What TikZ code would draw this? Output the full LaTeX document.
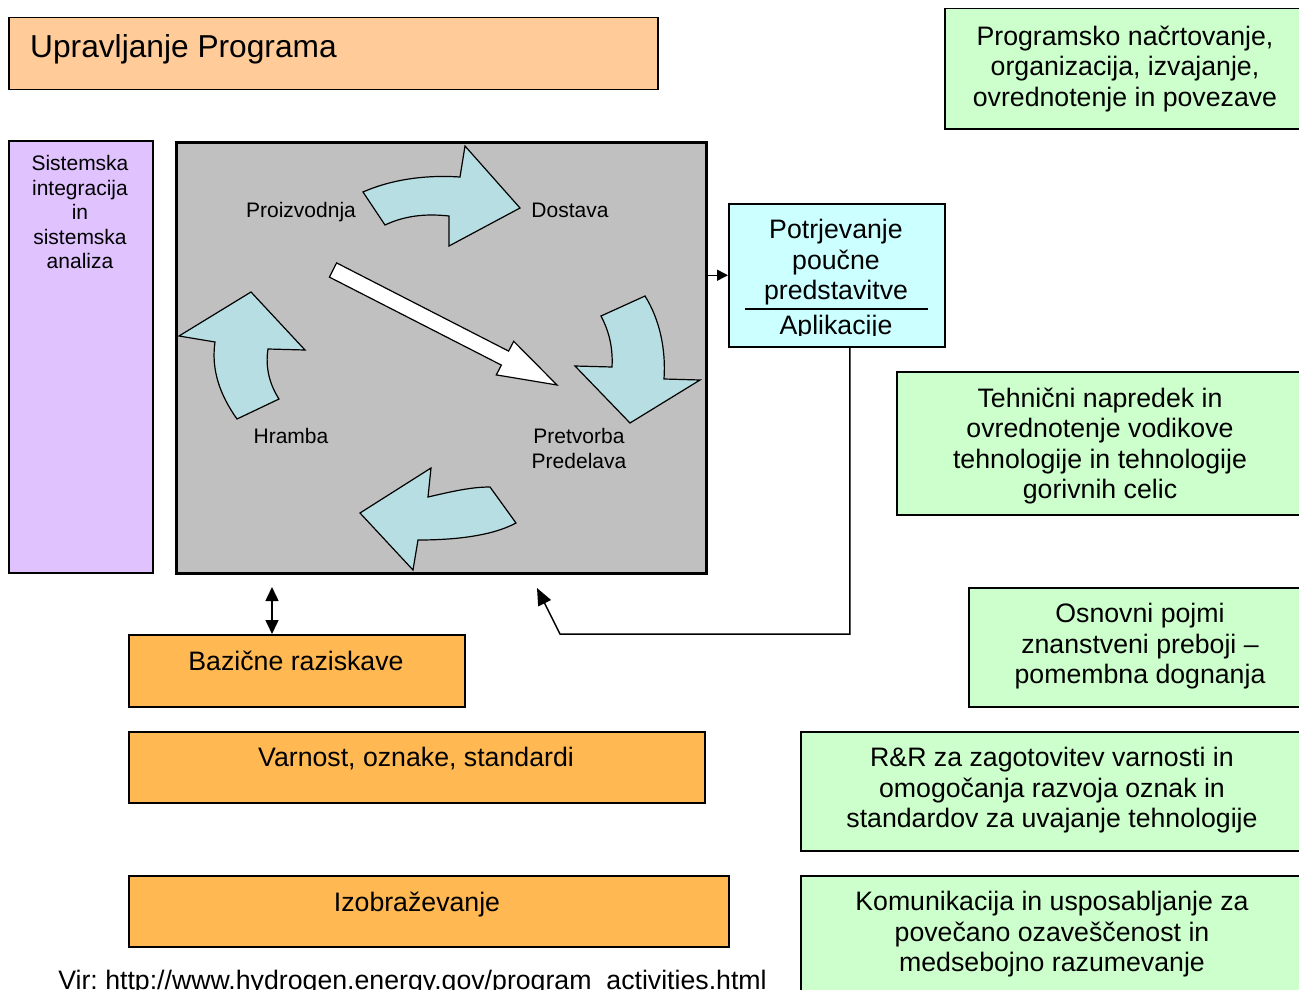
\documentclass[tikz,border=0pt]{standalone}
\usepackage{fontspec}
\setmainfont{Liberation Sans}
\usetikzlibrary{arrows.meta}
\frenchspacing
\definecolor{titleor}{RGB}{255,204,153}
\definecolor{boxor}{RGB}{255,184,82}
\definecolor{lav}{RGB}{224,194,255}
\definecolor{cyanb}{RGB}{204,255,255}
\definecolor{grn}{RGB}{204,255,204}
\definecolor{grayb}{RGB}{192,192,192}
\definecolor{arrb}{RGB}{183,222,226}
\tikzset{
  box/.style={draw=black, line width=1.5pt, anchor=north west, inner sep=0pt},
  big/.style={font=\fontsize{26.7}{30.5}\selectfont, align=center, inner sep=0pt},
  small/.style={font=\fontsize{21}{24.5}\selectfont, align=center, inner sep=0pt},
  blockarrow/.style={fill=arrb, draw=black, line width=1.2pt, line join=miter},
  link/.style={draw=black, line width=1.5pt},
}
\begin{document}
\begin{tikzpicture}[x=1pt,y=-1pt]
\useasboundingbox (0,0) rectangle (1299,990);
\clip (0,0) rectangle (1299,990);

% boxes
\node[box, fill=titleor, minimum width=649pt, minimum height=72pt] (title) at (8,17) {};
\node[box, fill=lav, minimum width=144pt, minimum height=432pt] (sys) at (8,140) {};
\node[box, fill=grayb, line width=2.5pt, minimum width=530pt, minimum height=431pt] (cyc) at (175,141) {};
\node[box, fill=cyanb, minimum width=216pt, minimum height=143pt] (pot) at (728,203) {};
\node[box, fill=boxor, minimum width=336pt, minimum height=72pt] (baz) at (128,634) {};
\node[box, fill=boxor, minimum width=576pt, minimum height=71pt] (var) at (128,731) {};
\node[box, fill=boxor, minimum width=600pt, minimum height=71pt] (izo) at (128,875) {};
\node[box, fill=grn, minimum width=361pt, minimum height=120pt] (g1) at (944,8) {};
\node[box, fill=grn, minimum width=409pt, minimum height=143pt] (g2) at (896,371) {};
\node[box, fill=grn, minimum width=337pt, minimum height=119pt] (g3) at (968,587) {};
\node[box, fill=grn, minimum width=505pt, minimum height=119pt] (g4) at (800,731) {};
\node[box, fill=grn, minimum width=505pt, minimum height=130pt] (g5) at (800,875) {};

% texts
\node[anchor=base west, inner sep=0pt, font=\fontsize{31.7}{36}\selectfont] (titletxt) at (30,58) {Upravljanje Programa};
\node[small, anchor=north] (systxt) at (80,155.4) {Sistemska\\integracija\\in\\sistemska\\analiza};
\node[small, anchor=base] (proiz) at (301,217.5) {Proizvodnja};
\node[small, anchor=base] (dost) at (570,217.5) {Dostava};
\node[small, anchor=base] (hram) at (291,443.5) {Hramba};
\node[small, anchor=north] (pretv) at (579,428.4) {Pretvorba\\Predelava};
\node[big, anchor=north] (pottxt) at (836,219.4) {Potrjevanje\\poučne\\predstavitve};
\draw[line width=1.5pt] (745,309) -- (928,309);
\begin{scope}
  \clip (729,310) rectangle (943,335);
  \node[big, anchor=base] (apl) at (836,334) {Aplikacije};
\end{scope}
\node[big, anchor=north] (baztxt) at (296,650.4) {Bazične raziskave};
\node[big, anchor=north] (vartxt) at (416,747.4) {Varnost, oznake, standardi};
\node[big, anchor=north] (izotxt) at (417,891.4) {Izobraževanje};
\node[big, anchor=north] (g1txt) at (1125,25.4) {Programsko načrtovanje,\\organizacija, izvajanje,\\ovrednotenje in povezave};
\node[big, anchor=north] (g2txt) at (1100,387.4) {Tehnični napredek in\\ovrednotenje vodikove\\tehnologije in tehnologije\\gorivnih celic};
\node[big, anchor=north] (g3txt) at (1140,603.4) {Osnovni pojmi\\znanstveni preboji –\\pomembna dognanja};
\node[big, anchor=north] (g4txt) at (1052,747.4) {R\&R za zagotovitev varnosti in\\omogočanja razvoja oznak in\\standardov za uvajanje tehnologije};
\node[big, anchor=north] (g5txt) at (1052,891.4) {Komunikacija in usposabljanje za\\povečano ozaveščenost in\\medsebojno razumevanje};
\node[big, anchor=base] (vir) at (412.5,989) {Vir: http://www.hydrogen.energy.gov/program\_activities.html};

% block arrows in the cycle
\filldraw[blockarrow] (363,192) .. controls (395,178) and (430,175) .. (460,177) -- (465,146) -- (520,208) -- (449,246) -- (449,216) .. controls (422,213) and (402,217) .. (385,225) -- cycle;
\filldraw[blockarrow] (601,316) -- (645,296) .. controls (660,320) and (666,350) .. (664,379) -- (700,380) -- (630,423) -- (575,366) -- (612,367) .. controls (613,350) and (610,333) .. (601,316) -- cycle;
\filldraw[blockarrow] (490,487) -- (516,523) .. controls (490,537) and (450,540) .. (418,540) -- (413,570) -- (360,513) -- (431,468) -- (428,497) .. controls (450,492) and (470,487) .. (490,487) -- cycle;
\filldraw[blockarrow] (237,419) -- (279,399) .. controls (270,385) and (265,368) .. (268,349) -- (305,350) -- (251,292) -- (179,336) -- (215,342) .. controls (211,370) and (220,395) .. (237,419) -- cycle;
% white straight arrow
\filldraw[fill=white, draw=black, line width=1.2pt, line join=miter] (336.6,262.9) -- (508.6,351.1) -- (513.7,341.3) -- (557,385) -- (496.3,374.9) -- (501.4,365.1) -- (329.4,277.1) -- cycle;

% connectors
\draw[link, -{Triangle[length=11pt,width=11pt]}] (pot.west -| cyc.east) -- (pot.west);
\coordinate (dtop) at (272,587);
\draw[link, {Triangle[length=14pt,width=13pt]}-{Triangle[length=14pt,width=13pt]}] (dtop) -- (dtop |- baz.north);
\coordinate (elbow) at (560,634);
\coordinate (back) at (537,588);
\draw[link, -{Triangle[length=17pt,width=14pt]}] ([xshift=13pt]pot.south) |- (elbow) -- (back);
\end{tikzpicture}
\end{document}
